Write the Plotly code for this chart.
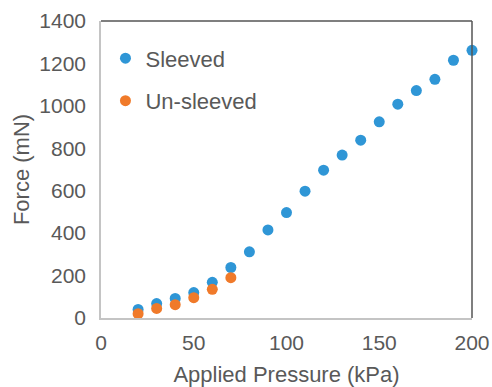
import plotly.graph_objects as go

pressure_sleeved = [20, 30, 40, 50, 60, 70, 80, 90, 100, 110, 120, 130, 140, 150, 160, 170, 180, 190, 200]
force_sleeved = [40, 68, 92, 120, 168, 238, 312, 415, 497, 598, 697, 768, 838, 925, 1008, 1072, 1125, 1215, 1262]
err_sleeved = [6, 6, 6, 6, 6, 8, 8, 8, 8, 8, 8, 8, 8, 8, 8, 8, 18, 8, 8]

pressure_unsleeved = [20, 30, 40, 50, 60, 70]
force_unsleeved = [20, 45, 63, 96, 135, 190]
err_unsleeved = [5, 5, 5, 5, 6, 6]

blue = "#2f96d6"
orange = "#f07a2a"
text_col = "#595959"
font_family = "Liberation Sans, Arial, sans-serif"

fig = go.Figure()
fig.add_trace(go.Scatter(
    x=pressure_sleeved, y=force_sleeved, mode="markers", name="Sleeved",
    legendgroup="a", cliponaxis=False,
    marker=dict(color=blue, size=11),
    error_y=dict(type="data", array=err_sleeved, color="#555555", thickness=1.2, width=3),
))
fig.add_trace(go.Scatter(
    x=pressure_unsleeved, y=force_unsleeved, mode="markers", name="Un-sleeved",
    legendgroup="b", cliponaxis=False,
    marker=dict(color=orange, size=11),
    error_y=dict(type="data", array=err_unsleeved, color="#555555", thickness=1.2, width=3),
))

fig.update_layout(
    width=492, height=387,
    margin=dict(l=101, r=20, t=21, b=69),
    paper_bgcolor="white", plot_bgcolor="white",
    font=dict(family=font_family, size=21, color=text_col),
    showlegend=True,
    legend=dict(x=0.012, y=0.945, xanchor="left", yanchor="top",
                bgcolor="rgba(0,0,0,0)", font=dict(size=22, color=text_col),
                tracegroupgap=11, traceorder="grouped", itemwidth=30),
    xaxis=dict(range=[0, 200], tickvals=[0, 50, 100, 150, 200], showgrid=False,
               zeroline=False, showline=True, linecolor="#c4c4c4", linewidth=1.5,
               ticks="outside", ticklen=5, tickcolor="rgba(0,0,0,0)", automargin=False,
               tickfont=dict(size=21),
               title=dict(text="Applied Pressure (kPa)", font=dict(size=22, color=text_col), standoff=14)),
    yaxis=dict(range=[0, 1400], tickvals=[0, 200, 400, 600, 800, 1000, 1200, 1400], showgrid=False,
               zeroline=False, showline=True, linecolor="#c4c4c4", linewidth=1.5,
               ticks="outside", ticklen=9, tickcolor="rgba(0,0,0,0)", automargin=False,
               tickfont=dict(size=21),
               title=dict(text="Force (mN)", font=dict(size=22, color=text_col), standoff=4)),
)
fig.add_shape(type="line", xref="x domain", yref="y domain", x0=0, x1=1, y0=1, y1=1,
              line=dict(color="#555555", width=1.5))
fig.add_shape(type="line", xref="x domain", yref="y domain", x0=1, x1=1, y0=0, y1=1,
              line=dict(color="#555555", width=1.5))

fig.write_html("out.html", config={"displayModeBar": False},
               post_script="document.body.style.margin='0';document.body.style.padding='0';")
